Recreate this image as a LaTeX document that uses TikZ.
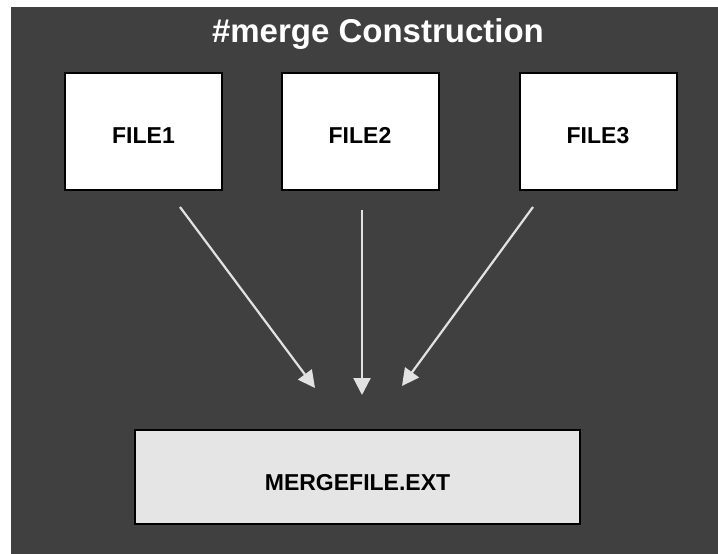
\documentclass[tikz,border=0pt]{standalone}
\usepackage{fontspec}
\setmainfont{Liberation Sans}
\usetikzlibrary{arrows.meta}
\definecolor{bggray}{HTML}{404040}
\definecolor{arrowgray}{HTML}{E2E2E2}
\definecolor{mergegray}{HTML}{E5E5E5}
\tikzset{
  filebox/.style={draw=black, line width=2pt, fill=white, minimum width=157pt, minimum height=117pt, text height=24.5pt, text depth=0pt, font=\bfseries\fontsize{23}{25}\selectfont},
  flow/.style={draw=arrowgray, line width=2.2pt, -{Triangle[length=17pt,width=17pt]}}
}
\begin{document}
\begin{tikzpicture}[x=1pt,y=-1pt]
\useasboundingbox (0,0) rectangle (718,554);
\fill[white] (0,0) rectangle (718,554);
\fill[bggray] (11,7) rectangle (718,554);
\node[text=white, font=\bfseries\fontsize{33}{36}\selectfont] (title) at (378,34){\#merge Construction};
\node[filebox] (file1) at (143.5,131.5){FILE1};
\node[filebox] (file2) at (360,131.5){FILE2};
\node[filebox] (file3) at (598,131.5){FILE3};
\node[filebox, fill=mergegray, minimum width=445pt, minimum height=94pt, text height=26.5pt] (mergefile) at (357.5,477){MERGEFILE.EXT};
\coordinate (s1) at (180,207);
\coordinate (e1) at (315,388);
\coordinate (s2) at (362,210);
\coordinate (e2) at (362,395);
\coordinate (s3) at (533,207);
\coordinate (e3) at (402,386);
\draw[flow](s1) -- (e1);
\draw[flow](s2) -- (e2);
\draw[flow](s3) -- (e3);
\end{tikzpicture}
\end{document}
